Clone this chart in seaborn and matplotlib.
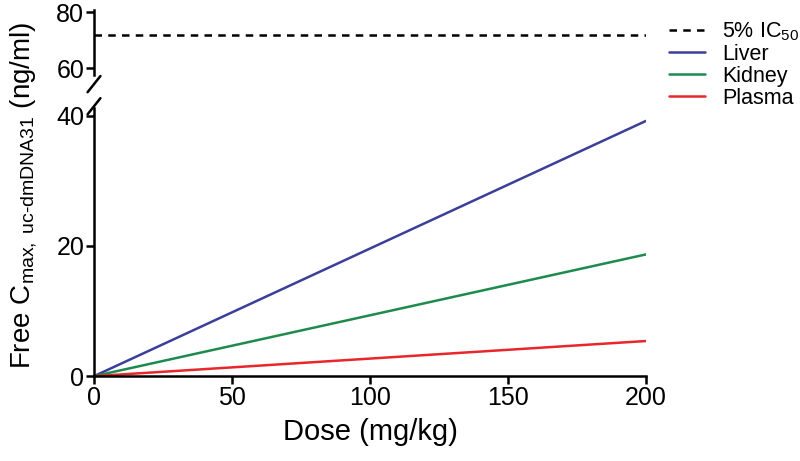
import pandas as pd
import matplotlib.pyplot as plt
import seaborn as sns

# data
dose = [0, 200]
ic50_5pct = [72, 72]
liver = [0, 39.2]
kidney = [0, 18.7]
plasma = [0, 5.4]

series_names = ["Liver", "Kidney", "Plasma"]
series_colors = ["#3b3f99", "#1e8a4e", "#e8262b"]

df = pd.DataFrame({
    "dose": dose * 3,
    "conc": liver + kidney + plasma,
    "tissue": [n for n in series_names for _ in dose],
})
ic_df = pd.DataFrame({"dose": dose, "conc": ic50_5pct})

sns.set_style("ticks", {"axes.edgecolor": "black", "text.color": "black",
                        "axes.labelcolor": "black", "xtick.color": "black",
                        "ytick.color": "black"})
plt.rcParams["font.family"] = ["Liberation Sans", "DejaVu Sans"]
plt.rcParams["mathtext.fontset"] = "custom"
plt.rcParams["mathtext.rm"] = "Liberation Sans"
plt.rcParams["mathtext.it"] = "Liberation Sans"

fig = plt.figure(figsize=(8, 4.61), dpi=100)
ax_top = fig.add_axes([0.1175, 0.837, 0.69, 0.141])
ax = fig.add_axes([0.1175, 0.184, 0.69, 0.582])

sns.lineplot(data=ic_df, x="dose", y="conc", ax=ax_top, color="black",
             linestyle=(0, (3, 2.5)), linewidth=1.8, label="5% IC$_{50}$")
sns.lineplot(data=df, x="dose", y="conc", hue="tissue", palette=series_colors,
             hue_order=series_names, ax=ax, linewidth=1.8)

# lower axis
ax.set_xlim(0, 200)
ax.set_ylim(0, 41.2)
ax.set_xticks([0, 50, 100, 150, 200])
ax.set_yticks([0, 20, 40])
ax.set_xlabel("Dose (mg/kg)", fontsize=21, labelpad=6)
ax.set_ylabel("")
sns.despine(ax=ax)

# upper axis
ax_top.set_xlim(0, 200)
ax_top.set_ylim(57.5, 80.8)
ax_top.set_yticks([60, 80])
ax_top.set_xticks([])
ax_top.set_xlabel("")
ax_top.set_ylabel("")
sns.despine(ax=ax_top, bottom=True)

for a in (ax, ax_top):
    for s in a.spines.values():
        s.set_linewidth(1.8)
    a.tick_params(width=1.8, length=6, labelsize=18, pad=1)

# break marks
kw = dict(transform=fig.transFigure, color="black", linewidth=1.8, clip_on=False)
x0 = 0.1175
fig.add_artist(plt.Line2D([x0 - 0.008, x0 + 0.008], [0.800, 0.835], **kw))
fig.add_artist(plt.Line2D([x0 - 0.008, x0 + 0.008], [0.752, 0.787], **kw))

# legend
h1, l1 = ax_top.get_legend_handles_labels()
h2, l2 = ax.get_legend_handles_labels()
ax.get_legend().remove()
ax_top.get_legend().remove()
fig.legend(h1 + h2, l1 + l2, loc="upper left", bbox_to_anchor=(0.825, 0.975),
           frameon=False, fontsize=15.5, handlelength=1.7, labelspacing=0.05,
           handletextpad=0.8, borderaxespad=0)

fig.text(0.03, 0.577, "Free C$_{\\mathrm{max,\\ uc\\text{-}dmDNA31}}$ (ng/ml)",
         rotation=90, va="center", ha="center", fontsize=20)

fig.savefig("out.png", dpi=100)
